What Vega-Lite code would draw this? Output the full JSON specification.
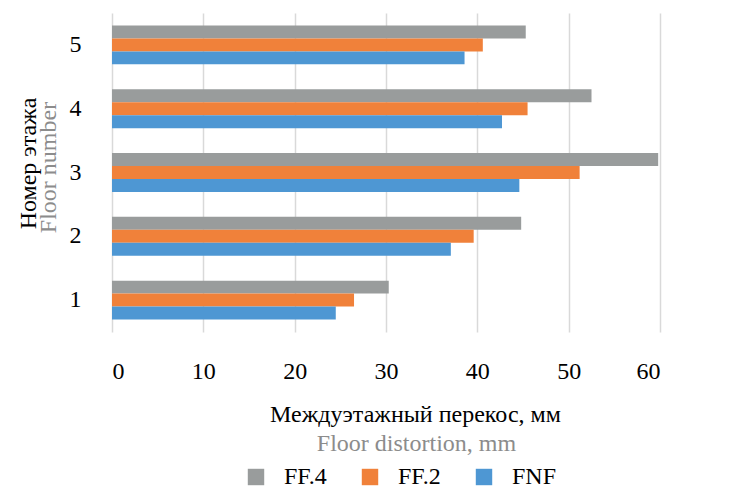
{
  "$schema": "https://vega.github.io/schema/vega-lite/v6.json",
  "width": 548,
  "height": 319,
  "autosize": "none",
  "padding": {"left": 112, "top": 13, "right": 73, "bottom": 157},
  "background": "white",
  "config": {"view": {"stroke": null}, "font": "Liberation Serif"},
  "data": {
    "values": [
      {"floor": "5", "series": "FF.4", "value": 45.3},
      {"floor": "5", "series": "FF.2", "value": 40.6},
      {"floor": "5", "series": "FNF", "value": 38.6},
      {"floor": "4", "series": "FF.4", "value": 52.5},
      {"floor": "4", "series": "FF.2", "value": 45.5},
      {"floor": "4", "series": "FNF", "value": 42.7},
      {"floor": "3", "series": "FF.4", "value": 59.8},
      {"floor": "3", "series": "FF.2", "value": 51.2},
      {"floor": "3", "series": "FNF", "value": 44.6},
      {"floor": "2", "series": "FF.4", "value": 44.8},
      {"floor": "2", "series": "FF.2", "value": 39.6},
      {"floor": "2", "series": "FNF", "value": 37.1},
      {"floor": "1", "series": "FF.4", "value": 30.3},
      {"floor": "1", "series": "FF.2", "value": 26.5},
      {"floor": "1", "series": "FNF", "value": 24.5}
    ]
  },
  "layer": [
    {
      "mark": {"type": "bar"},
      "encoding": {
        "y": {
          "field": "floor", "type": "nominal", "sort": "descending",
          "scale": {"paddingInner": 0.39, "paddingOuter": 0.195},
          "axis": {
            "orient": "left", "domain": false, "ticks": false, "grid": false,
            "labelFont": "Liberation Serif", "labelFontSize": 24, "labelColor": "#000000",
            "labelPadding": 31,
            "title": "Номер этажа", "titleFont": "Liberation Serif", "titleFontSize": 24,
            "titleFontWeight": "normal", "titleColor": "#000000",
            "titleAngle": -90, "titleX": -84, "titleY": 150,
            "titleAlign": "center", "titleBaseline": "middle"
          }
        },
        "yOffset": {"field": "series", "type": "nominal", "sort": ["FF.4", "FF.2", "FNF"]},
        "x": {
          "field": "value", "type": "quantitative",
          "scale": {"domain": [0, 60], "nice": false},
          "axis": {
            "orient": "bottom", "values": [0, 10, 20, 30, 40, 50, 60],
            "domain": false, "ticks": false, "grid": true,
            "gridColor": "#d9d9d9", "gridWidth": 1.5,
            "labelFont": "Liberation Serif", "labelFontSize": 24, "labelColor": "#000000",
            "labelPadding": 27,
            "title": "Междуэтажный перекос, мм", "titleFont": "Liberation Serif",
            "titleFontSize": 24, "titleFontWeight": "normal", "titleColor": "#000000",
            "titleX": 303, "titleY": 82, "titleAlign": "center", "titleBaseline": "middle"
          }
        },
        "color": {
          "field": "series", "type": "nominal",
          "scale": {"domain": ["FF.4", "FF.2", "FNF"], "range": ["#999c9c", "#f0813a", "#4e97d3"]},
          "legend": {
            "title": null, "orient": "none", "direction": "horizontal",
            "legendX": 132, "legendY": 452,
            "symbolType": "square", "symbolSize": 270, "symbolStrokeWidth": 0,
            "labelFont": "Liberation Serif", "labelFontSize": 24, "labelColor": "#000000",
            "labelOffset": 16, "columnPadding": 31
          }
        }
      }
    },
    {
      "mark": {"type": "bar", "opacity": 0},
      "encoding": {
        "y": {
          "field": "floor", "type": "nominal", "sort": "descending",
          "axis": {
            "orient": "left", "domain": false, "ticks": false, "labels": false, "grid": false,
            "title": "Floor number", "titleFont": "Liberation Serif", "titleFontSize": 24,
            "titleFontWeight": "normal", "titleColor": "#8c8c8c",
            "titleAngle": -90, "titleX": -64, "titleY": 154,
            "titleAlign": "center", "titleBaseline": "middle"
          }
        },
        "x": {
          "field": "value", "type": "quantitative",
          "axis": {
            "orient": "bottom", "domain": false, "ticks": false, "labels": false, "grid": false,
            "title": "Floor distortion, mm", "titleFont": "Liberation Serif",
            "titleFontSize": 24, "titleFontWeight": "normal", "titleColor": "#8c8c8c",
            "titleX": 304, "titleY": 111, "titleAlign": "center", "titleBaseline": "middle"
          }
        }
      }
    }
  ],
  "resolve": {"axis": {"x": "independent", "y": "independent"}}
}
